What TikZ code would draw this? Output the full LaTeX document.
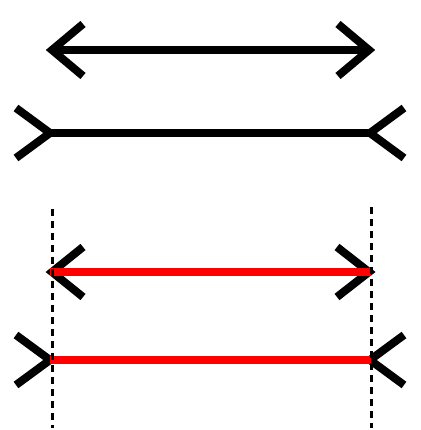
\documentclass[tikz,border=0pt]{standalone}
\begin{document}
\begin{tikzpicture}[x=1pt,y=-1pt,
  fin/.style={line width=8pt,black,line join=miter,miter limit=10,line cap=butt},
  shaft/.style={line width=8pt,black,line cap=butt},
  redshaft/.style={line width=8pt,red,line cap=butt},
  guide/.style={line width=3pt,black,dash pattern=on 7pt off 5pt}]
\useasboundingbox (0,0) rectangle (420,430);
% top arrow (outward heads)
\draw[shaft] (52,50) -- (369,50);
\draw[fin] (83,24) -- (52,50) -- (83,76);
\draw[fin] (338,24) -- (369,50) -- (338,76);
% second line (inward fins)
\draw[shaft] (50,133) -- (370,133);
\draw[fin] (16,108) -- (50,133) -- (16,158);
\draw[fin] (404,108) -- (370,133) -- (404,158);
% fins of the red lines
\draw[fin] (83,247) -- (52,272) -- (83,297);
\draw[fin] (337,247) -- (369,272) -- (337,297);
\draw[fin] (16,335) -- (50,360) -- (16,385);
\draw[fin] (404,335) -- (370,360) -- (404,385);
% red lines on top
\draw[redshaft] (50,272) -- (371,272);
\draw[redshaft] (50,360) -- (371,360);
% dashed guides
\coordinate (l1) at (52,209); \coordinate (l2) at (52,428);
\coordinate (r1) at (371,207); \coordinate (r2) at (371,428);
\draw[guide] (l1) -- (l2);
\draw[guide] (r1) -- (r2);
\end{tikzpicture}
\end{document}
